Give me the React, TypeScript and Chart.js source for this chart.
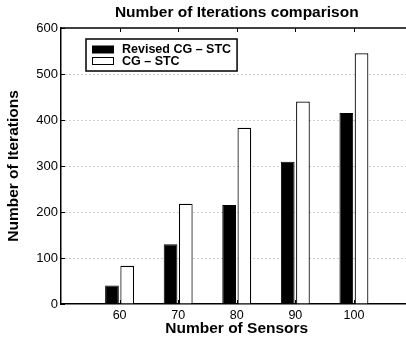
import React, { useEffect, useRef } from 'react';
import { Chart, registerables } from 'chart.js';

Chart.register(...registerables);

const categories = [60, 70, 80, 90, 100];
const revisedCG = [40, 130, 215, 309, 415];
const cgSTC = [83, 218, 383, 440, 545];
const seriesLabels = ['Revised CG \u2013 STC', 'CG \u2013 STC'];
const chartTitle = 'Number of Iterations comparison';
const xTitle = 'Number of Sensors';
const yTitle = 'Number of Iterations';
const xRange = [50, 110];
const yRange = [0, 600];

const FONT = '"Liberation Sans", Arial, Helvetica, sans-serif';

const decor = {
  id: 'decor',
  afterDatasetsDraw(chart: any) {
    const ctx = chart.ctx;
    const { left, right, top, bottom } = chart.chartArea;
    const xs = chart.scales.x;
    const ys = chart.scales.y;
    ctx.save();
    ctx.strokeStyle = '#000';
    ctx.lineWidth = 1.5;
    ctx.beginPath();
    ctx.moveTo(left, top);
    ctx.lineTo(right, top);
    ctx.stroke();
    ctx.lineWidth = 1;
    ctx.beginPath();
    categories.forEach((c) => {
      const px = Math.round(xs.getPixelForValue(c)) + 0.5;
      ctx.moveTo(px, top);
      ctx.lineTo(px, top + 4);
      ctx.moveTo(px, bottom);
      ctx.lineTo(px, bottom - 4);
    });
    ys.ticks.forEach((t: any) => {
      const py = Math.round(ys.getPixelForValue(t.value)) + 0.5;
      ctx.moveTo(left, py);
      ctx.lineTo(left + 4, py);
    });
    ctx.stroke();

    // legend
    const bx = left + 25;
    const by = top + 11;
    ctx.font = 'bold 12.5px ' + FONT;
    const widths = chart.data.datasets.map((d: any) => ctx.measureText(d.label).width);
    const bw = 36 + Math.max(...widths) + 6;
    const bh = 32;
    ctx.fillStyle = '#fff';
    ctx.fillRect(bx, by, bw, bh);
    ctx.lineWidth = 1.5;
    ctx.strokeStyle = '#000';
    ctx.strokeRect(bx, by, bw, bh);
    chart.data.datasets.forEach((d: any, i: number) => {
      const cy = by + 10.5 + i * 11.5;
      ctx.fillStyle = d.backgroundColor;
      ctx.fillRect(bx + 6.5, cy - 3.5, 21, 7);
      ctx.lineWidth = 1;
      ctx.strokeStyle = d.borderColor;
      ctx.strokeRect(bx + 6.5, cy - 3.5, 21, 7);
      ctx.fillStyle = '#000';
      ctx.textBaseline = 'middle';
      ctx.textAlign = 'left';
      ctx.fillText(d.label, bx + 36, cy + 0.5);
    });
    ctx.restore();
  },
};

export default function App() {
  const ref = useRef<HTMLCanvasElement>(null);
  useEffect(() => {
    if (!ref.current) return;
    const chart = new Chart(ref.current, {
      type: 'bar',
      data: {
        datasets: [
          {
            label: seriesLabels[0],
            data: categories.map((c, i) => ({ x: c, y: revisedCG[i] })),
            backgroundColor: '#000',
            borderColor: '#000',
            borderWidth: 1,
          },
          {
            label: seriesLabels[1],
            data: categories.map((c, i) => ({ x: c, y: cgSTC[i] })),
            backgroundColor: '#fff',
            borderColor: '#000',
            borderWidth: 1.2,
          },
        ],
      },
      options: {
        animation: false,
        responsive: false,
        devicePixelRatio: 1,
        categoryPercentage: 0.52,
        barPercentage: 0.9,
        layout: { padding: { left: 0, right: 7.5, top: 0, bottom: 0 } },
        plugins: {
          legend: { display: false },
          tooltip: { enabled: false },
          title: {
            display: true,
            text: chartTitle,
            fullSize: false,
            color: '#000',
            font: { family: FONT, size: 15.5, weight: 'bold' },
            padding: { top: 3.2, bottom: 6.2 },
          },
        },
        scales: {
          x: {
            type: 'linear',
            min: xRange[0],
            max: xRange[1],
            offset: false,
            afterFit: (s: any) => {
              s.height = 35;
            },
            ticks: {
              stepSize: 10,
              color: '#000',
              padding: 4,
              maxRotation: 0,
              font: { family: FONT, size: 12.5 },
              callback: (v: any) => (categories.includes(v) ? String(v) : ''),
            },
            grid: { display: false, drawTicks: false, tickLength: 0 },
            border: { display: true, color: '#000', width: 1.5 },
            title: {
              display: true,
              text: xTitle,
              color: '#000',
              font: { family: FONT, size: 15.5, weight: 'bold' },
              padding: { top: 0, bottom: 1.2 },
            },
          },
          y: {
            min: yRange[0],
            max: yRange[1],
            afterFit: (s: any) => {
              s.width = 61;
            },
            ticks: {
              stepSize: 100,
              color: '#000',
              padding: 3,
              font: { family: FONT, size: 13 },
            },
            grid: {
              drawTicks: false,
              tickLength: 0,
              lineWidth: 1,
              color: (c: any) =>
                c.tick && (c.tick.value === yRange[0] || c.tick.value === yRange[1])
                  ? 'rgba(0,0,0,0)'
                  : '#9a9a9a',
              borderDash: [1, 3],
            } as any,
            border: { display: true, color: '#000', width: 1.5, dash: [1, 3] },
            title: {
              display: true,
              text: yTitle,
              color: '#000',
              font: { family: FONT, size: 15.5, weight: 'bold' },
              padding: { top: 4.5, bottom: 0 },
            },
          },
        },
      } as any,
      plugins: [decor],
    });
    return () => chart.destroy();
  }, []);
  return (
    <div
      style={{
        position: 'fixed',
        left: 0,
        top: 0,
        width: 406,
        height: 339,
        overflow: 'hidden',
        background: '#fff',
      }}
    >
      <canvas ref={ref} width={420} height={339} style={{ display: 'block' }} />
    </div>
  );
}
